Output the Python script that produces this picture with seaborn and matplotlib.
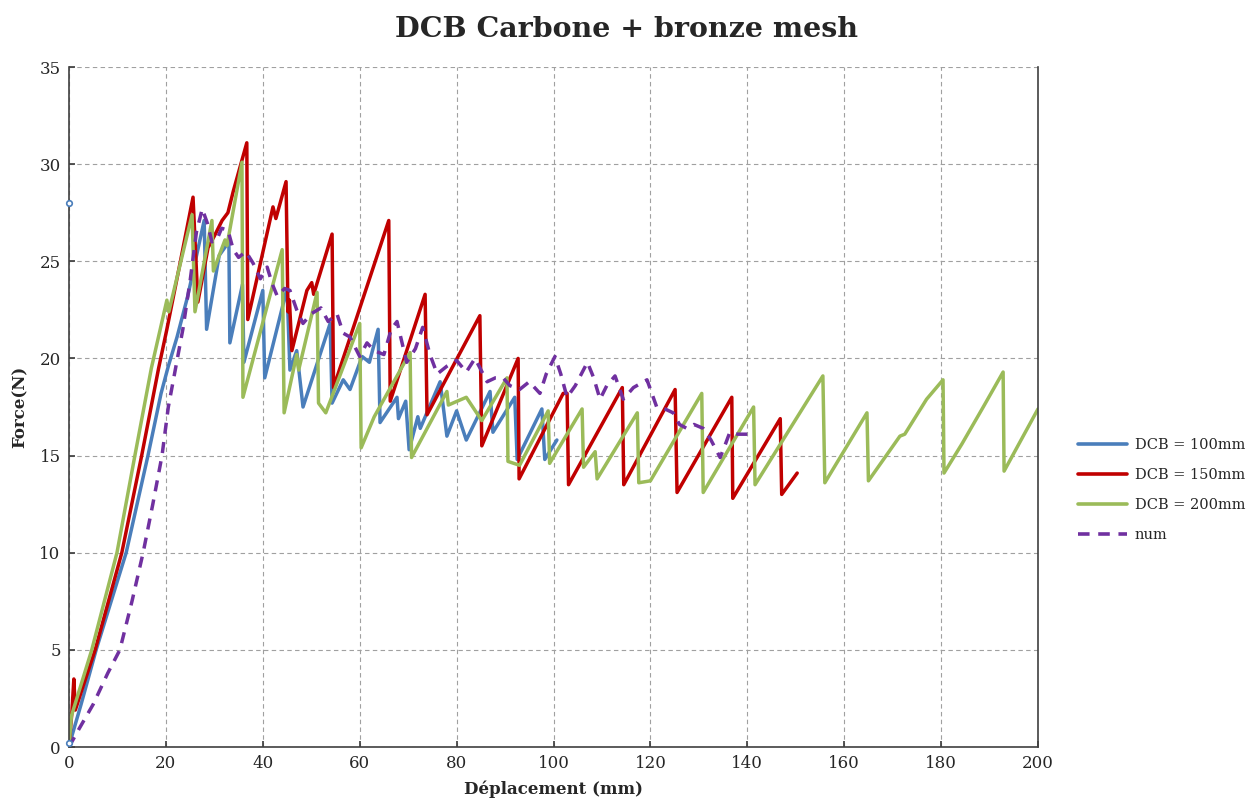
import numpy as np
import pandas as pd
import matplotlib
matplotlib.use("Agg")
import matplotlib.pyplot as plt
import seaborn as sns

# ---------------- data ----------------
blue_x = [0, 0.4, 2.5, 5.6, 11.8, 16.3, 19, 20.5, 22.3, 24.5, 27.9, 28.4, 31, 33, 33.2, 35.8, 36.1, 40, 40.4,
          45, 45.6, 47, 48.3, 53.9, 54.3, 56.6, 58, 60.5, 62, 63.8, 64.2, 67.7, 68, 69.5, 70.2, 72, 72.5,
          76.6, 78, 80, 82, 86.9, 87.5, 92, 92.5, 97.6, 98.2, 100.7]
blue_y = [0, 0.4, 2.2, 5, 10, 15, 18.2, 19.6, 21.1, 23.2, 27.1, 21.5, 25.3, 26, 20.8, 23.8, 19.8, 23.5, 19,
          23.6, 19.4, 20.4, 17.5, 21.8, 17.7, 18.9, 18.4, 20.1, 19.8, 21.5, 16.7, 18, 16.9, 17.8, 15.3, 17, 16.4,
          18.8, 16, 17.3, 15.8, 18.3, 16.2, 18, 14.8, 17.4, 14.8, 15.8]

red_x = [0, 0.6, 1.0, 1.3, 3, 5.4, 10.9, 15, 18.5, 20.2, 23, 25.6, 26.6, 28.7, 30, 31.6, 32.8, 33.9, 36.7,
         36.9, 42.1, 42.7, 44.8, 45.2, 45.5, 46, 49.1, 50.1, 50.5, 54.3, 54.6, 66, 66.3, 73.5, 73.9, 84.8, 85.2,
         92.7, 92.9, 102, 102.8, 103.1, 114.2, 114.5, 125.1, 125.5, 136.8, 137, 146.8, 147.1, 150.3]
red_y = [0, 1.8, 3.5, 1.9, 3.2, 5, 10, 15, 19.5, 21.5, 25, 28.3, 22.9, 25.7, 26.3, 27.1, 27.5, 28.6, 31.1,
         22, 27.8, 27.2, 29.1, 22.4, 23, 20.4, 23.5, 23.9, 23.3, 26.4, 18.5, 27.1, 17.8, 23.3, 17.1, 22.2, 15.5,
         20.0, 13.8, 18.2, 18.2, 13.5, 18.5, 13.5, 18.4, 13.1, 18.0, 12.8, 16.9, 13.0, 14.1]

green_x = [0, 0.5, 4.7, 9.9, 13.6, 17, 20.2, 20.6, 25.4, 26, 29.5, 29.8, 32.2, 32.6, 35.7, 35.9, 44, 44.4,
           47, 47.4, 51.2, 51.5, 53, 60, 60.3, 63, 70.4, 70.7, 78, 78.3, 82, 85.2, 90.4, 90.6, 93, 98.9, 99.2,
           105.9, 106.2, 108.6, 109, 117.3, 117.6, 120, 130.6, 130.9, 141.3, 141.6, 155.6, 156, 164.7, 165,
           171.5, 172.5, 177, 180.4, 180.6, 184.3, 188.7, 192.8, 193, 200]
green_y = [0, 1.6, 5, 10, 15, 19.5, 23, 22.4, 27.4, 22.4, 27.1, 24.5, 26.1, 25.8, 30.1, 18, 25.6, 17.2,
           20.2, 19.4, 23.4, 17.7, 17.2, 21.8, 15.4, 17, 20.3, 14.9, 18.3, 17.6, 18, 16.8, 19, 14.7, 14.5, 17.3, 14.6,
           17.4, 14.4, 15.2, 13.8, 17.2, 13.6, 13.7, 18.2, 13.1, 17.5, 13.5, 19.1, 13.6, 17.2, 13.7,
           16, 16.1, 17.9, 18.9, 14.1, 15.6, 17.5, 19.3, 14.2, 17.4]

num_x = [0, 2, 5, 8, 10.5, 13, 15.3, 17.3, 19.2, 20.5, 22, 23.5, 25, 26.3, 27.5, 28.5, 29.5, 30.5, 31.5,
         32.8, 33.9, 35, 36.5, 38, 39.5, 40.9, 42, 43, 44.5, 45.6, 47, 48.3, 50, 52, 53.5, 55.3, 56.6, 58, 60,
         61.5, 63, 65, 66.5, 67.7, 69.7, 71.5, 73, 74.5, 76, 78, 80, 82, 83.8, 86.3, 88, 89.6, 91, 93, 95,
         97.2, 98.5, 100.3, 101.5, 102.8, 104.5, 107, 108.3, 109.6, 111, 112.7, 114.4, 116.5, 119.3, 121.3,
         123, 124.7, 126, 127.5, 129, 130.9, 132.5, 134.4, 135.5, 136.4, 138, 140]
num_y = [0, 0.9, 2.2, 3.8, 5, 7.5, 10, 12.5, 15, 17.5, 19.5, 21.5, 24, 26.5, 27.7, 27, 26, 26.1, 26.7,
         26.6, 25.6, 25.2, 25.5, 24.9, 24.1, 24.7, 23.8, 23.2, 23.6, 23.5, 22.5, 21.8, 22.3, 22.6, 21.9, 22.3,
         21.3, 21.1, 20.1, 20.8, 20.4, 20.2, 21.5, 21.9, 19.8, 20.5, 21.6, 20.2, 19.2, 19.6, 19.9, 19.3, 20,
         18.8, 19, 19.0, 18.6, 18.4, 18.8, 18.2, 19.2, 20.1, 19.2, 18, 18.6, 19.8, 19, 17.9, 18.6, 19.1, 17.9,
         18.5, 18.9, 17.5, 17.4, 17.2, 16.6, 16.4, 16.6, 16.4, 15.8, 14.9, 15.6, 16.2, 16.1, 16.1]

labels = ["DCB = 100mm", "DCB = 150mm", "DCB = 200mm", "num"]
colors = ["#4A7EBB", "#C00000", "#9BBB59", "#7030A0"]

x_ticks = [0, 20, 40, 60, 80, 100, 120, 140, 160, 180, 200]
y_ticks = [0, 5, 10, 15, 20, 25, 30, 35]

# ---------------- build frame ----------------
frames = []
for lab, xs, ys in zip(labels, [blue_x, red_x, green_x, num_x], [blue_y, red_y, green_y, num_y]):
    frames.append(pd.DataFrame({"x": xs, "y": ys, "serie": lab, "order": np.arange(len(xs))}))
df = pd.concat(frames, ignore_index=True)

sns.set_theme(style="white")
plt.rcParams["font.family"] = ["DejaVu Serif"]

fig = plt.figure(figsize=(12.53, 8.07), dpi=100)
ax = fig.add_axes([69 / 1253, 1 - 747 / 807, (1038 - 69) / 1253, (747 - 67) / 807])

sns.lineplot(data=df, x="x", y="y", hue="serie", style="serie", hue_order=labels, style_order=labels,
             palette=dict(zip(labels, colors)),
             dashes={labels[0]: "", labels[1]: "", labels[2]: "", labels[3]: (3.2, 2.4)},
             sort=False, estimator=None, units="serie", linewidth=2.5, ax=ax, legend=True)

# small blue markers near origin and at y=28
ax.plot([0, 0], [28, 0.2], linestyle="none", marker="o", markersize=4, markerfacecolor="white",
        markeredgecolor="#4A7EBB", markeredgewidth=1.2, clip_on=False, zorder=5)

ax.set_xlim(0, 200)
ax.set_ylim(0, 35)
ax.set_xticks(x_ticks)
ax.set_yticks(y_ticks)
ax.grid(True, linestyle=(0, (4, 3)), color="#A0A0A0", linewidth=0.8)
for s in ["left", "bottom", "right"]:
    ax.spines[s].set_visible(True)
    ax.spines[s].set_color("#404040")
    ax.spines[s].set_linewidth(1.2)
ax.spines["top"].set_visible(False)
ax.tick_params(axis="both", which="major", labelsize=12, length=4, direction="in", color="#404040",
               left=True, bottom=True, pad=6)

ax.set_xlabel("Déplacement (mm)", fontsize=12, fontweight="bold", labelpad=6)
ax.set_ylabel("Force(N)", fontsize=12, fontweight="bold", labelpad=8)
fig.suptitle("DCB Carbone + bronze mesh", fontsize=20.5, fontweight="bold", y=0.98)

leg = ax.legend(loc="center left", bbox_to_anchor=(1.035, 0.378), frameon=False, fontsize=10.5,
                handlelength=3.4, labelspacing=1.1, handletextpad=0.5, borderaxespad=0)
for line in leg.get_lines():
    line.set_linewidth(2.6)

fig.savefig("out.png", dpi=100)
